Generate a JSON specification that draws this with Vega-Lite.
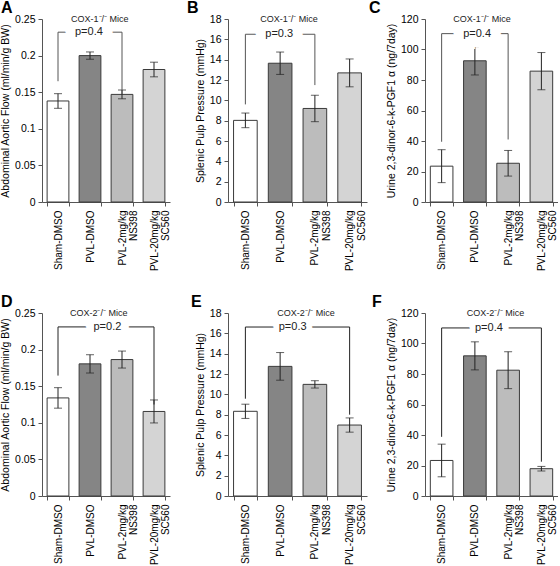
{
  "$schema": "https://vega.github.io/schema/vega-lite/v6.json",
  "padding": {"left": 0, "top": 0, "right": 0, "bottom": 0},
  "autosize": {"type": "pad"},
  "config": {
    "font": "Liberation Sans",
    "view": {"stroke": null},
    "axis": {"labelFont": "Liberation Sans", "titleFont": "Liberation Sans", "labelFontSize": 10.5, "titleFontSize": 10.5, "titleFontWeight": "normal", "labelColor": "#000", "titleColor": "#000", "domainColor": "#555", "tickColor": "#555", "grid": false, "tickSize": 4, "labelOverlap": false},
    "axisX": {"title": null, "labelFontSize": 10, "labelAngle": 270, "labelAlign": "right", "labelBaseline": "middle", "labelPadding": 4, "tickBand": "extent", "labelLineHeight": 11.5, "labelExpr": "indexof(datum.label, ' ') < 0 ? datum.label : [split(datum.label, ' ')[0], split(datum.label, ' ')[1] + '    ']"},
    "axisY": {"labelPadding": 3, "labelOverlap": false, "tickCount": 20},
    "title": {"font": "Liberation Sans", "fontSize": 16, "fontWeight": "bold", "anchor": "start", "frame": "group", "offset": -2}
  },
  "datasets": {
    "bars": [
      {"panel": "A", "cat": "Sham-DMSO", "mean": 0.138, "err": 0.010},
      {"panel": "A", "cat": "PVL-DMSO", "mean": 0.200, "err": 0.005},
      {"panel": "A", "cat": "PVL-2mg/kg NS398", "mean": 0.147, "err": 0.006},
      {"panel": "A", "cat": "PVL-20mg/kg SC560", "mean": 0.181, "err": 0.010},
      {"panel": "B", "cat": "Sham-DMSO", "mean": 8.03, "err": 0.72},
      {"panel": "B", "cat": "PVL-DMSO", "mean": 13.65, "err": 1.1},
      {"panel": "B", "cat": "PVL-2mg/kg NS398", "mean": 9.2, "err": 1.3},
      {"panel": "B", "cat": "PVL-20mg/kg SC560", "mean": 12.7, "err": 1.37},
      {"panel": "C", "cat": "Sham-DMSO", "mean": 23.5, "err": 10.8},
      {"panel": "C", "cat": "PVL-DMSO", "mean": 92.6, "err": 9.3},
      {"panel": "C", "cat": "PVL-2mg/kg NS398", "mean": 25.4, "err": 8.4},
      {"panel": "C", "cat": "PVL-20mg/kg SC560", "mean": 85.8, "err": 12.2},
      {"panel": "D", "cat": "Sham-DMSO", "mean": 0.134, "err": 0.014},
      {"panel": "D", "cat": "PVL-DMSO", "mean": 0.1805, "err": 0.0125},
      {"panel": "D", "cat": "PVL-2mg/kg NS398", "mean": 0.1864, "err": 0.0116},
      {"panel": "D", "cat": "PVL-20mg/kg SC560", "mean": 0.1155, "err": 0.0157},
      {"panel": "E", "cat": "Sham-DMSO", "mean": 8.33, "err": 0.7},
      {"panel": "E", "cat": "PVL-DMSO", "mean": 12.75, "err": 1.36},
      {"panel": "E", "cat": "PVL-2mg/kg NS398", "mean": 10.98, "err": 0.36},
      {"panel": "E", "cat": "PVL-20mg/kg SC560", "mean": 6.98, "err": 0.7},
      {"panel": "F", "cat": "Sham-DMSO", "mean": 23.3, "err": 10.7},
      {"panel": "F", "cat": "PVL-DMSO", "mean": 91.9, "err": 9.2},
      {"panel": "F", "cat": "PVL-2mg/kg NS398", "mean": 82.5, "err": 12.1},
      {"panel": "F", "cat": "PVL-20mg/kg SC560", "mean": 17.9, "err": 1.5}
    ],
    "brackets": [
      {"panel": "A", "from": "Sham-DMSO", "to": "PVL-2mg/kg NS398", "ytop": 0.232, "yl": 0.165, "yr": 0.147, "p": "p=0.4", "cox": "COX-1⁻/⁻ Mice", "ymax": 0.25},
      {"panel": "B", "from": "Sham-DMSO", "to": "PVL-2mg/kg NS398", "ytop": 16.5, "yl": 9.6, "yr": 11.5, "p": "p=0.3", "cox": "COX-1⁻/⁻ Mice", "ymax": 18},
      {"panel": "C", "from": "Sham-DMSO", "to": "PVL-2mg/kg NS398", "ytop": 110.4, "yl": 39.5, "yr": 41, "p": "p=0.4", "cox": "COX-1⁻/⁻ Mice", "ymax": 120},
      {"panel": "D", "from": "Sham-DMSO", "to": "PVL-20mg/kg SC560", "ytop": 0.231, "yl": 0.1645, "yr": 0.125, "p": "p=0.2", "cox": "COX-2⁻/⁻ Mice", "ymax": 0.25},
      {"panel": "E", "from": "Sham-DMSO", "to": "PVL-20mg/kg SC560", "ytop": 16.62, "yl": 9.57, "yr": 8.0, "p": "p=0.3", "cox": "COX-2⁻/⁻ Mice", "ymax": 18},
      {"panel": "F", "from": "Sham-DMSO", "to": "PVL-20mg/kg SC560", "ytop": 110.2, "yl": 38.8, "yr": 22.5, "p": "p=0.4", "cox": "COX-2⁻/⁻ Mice", "ymax": 120}
    ]
  },
  "columns": 3,
  "bounds": "flush",
  "align": "each",
  "spacing": {"row": 111, "column": 58},
  "resolve": {"scale": {"x": "independent", "y": "independent"}},
  "concat": [
    {
      "width": 128, "height": 183,
      "title": {"text": "A", "dx": -41},
      "layer": [
        {"data": {"name": "bars"}, "transform": [{"filter": "datum.panel==='A'"}],
         "mark": {"type": "bar", "stroke": "#3a3a3a", "strokeWidth": 1},
         "encoding": {
           "x": {"field": "cat", "type": "nominal", "scale": {"domain": ["Sham-DMSO", "PVL-DMSO", "PVL-2mg/kg NS398", "PVL-20mg/kg SC560"], "paddingInner": 0.32, "paddingOuter": 0.16}},
           "y": {"field": "mean", "type": "quantitative", "title": "Abdominal Aortic Flow (ml/min/g BW)", "scale": {"domain": [0, 0.25], "nice": false}, "axis": {"values": [0, 0.05, 0.1, 0.15, 0.2, 0.25], "format": "~g", "tickCount": 20}},
           "fill": {"field": "cat", "type": "nominal", "scale": {"domain": ["Sham-DMSO", "PVL-DMSO", "PVL-2mg/kg NS398", "PVL-20mg/kg SC560"], "range": ["#ffffff", "#858585", "#bcbcbc", "#d4d4d4"]}, "legend": null}
         }},
        {"data": {"name": "bars"}, "transform": [{"filter": "datum.panel==='A'"}],
         "mark": {"type": "errorbar", "ticks": {"size": 8}, "color": "#222", "thickness": 1},
         "encoding": {
           "x": {"field": "cat", "type": "nominal"},
           "y": {"field": "mean", "type": "quantitative", "title": "Abdominal Aortic Flow (ml/min/g BW)", "axis": {"values": [0, 0.05, 0.1, 0.15, 0.2, 0.25], "format": "~g", "tickCount": 20}},
           "yError": {"field": "err"}
         }},
        {"data": {"name": "brackets"}, "transform": [{"filter": "datum.panel==='A'"}],
         "mark": {"type": "rule", "color": "#555"},
         "encoding": {"x": {"field": "from", "type": "nominal"}, "y": {"field": "yl", "type": "quantitative"}, "y2": {"field": "ytop"}}},
        {"data": {"name": "brackets"}, "transform": [{"filter": "datum.panel==='A'"}],
         "mark": {"type": "rule", "color": "#555"},
         "encoding": {"x": {"field": "to", "type": "nominal"}, "y": {"field": "yr", "type": "quantitative"}, "y2": {"field": "ytop"}}},
        {"data": {"name": "brackets"}, "transform": [{"filter": "datum.panel==='A'"}],
         "mark": {"type": "rule", "color": "#555"},
         "encoding": {"x": {"field": "from", "type": "nominal", "bandPosition": 0.5}, "x2": {"field": "to", "bandPosition": 0.5}, "y": {"field": "ytop", "type": "quantitative"}}},
        {"data": {"name": "brackets"}, "transform": [{"filter": "datum.panel==='A'"}],
         "mark": {"type": "text", "fontSize": 11, "stroke": "white", "strokeWidth": 20, "fill": "white", "baseline": "middle"},
         "encoding": {"x": {"datum": "PVL-DMSO", "bandPosition": 0.45}, "y": {"field": "ytop", "type": "quantitative"}, "text": {"field": "p"}}},
        {"data": {"name": "brackets"}, "transform": [{"filter": "datum.panel==='A'"}],
         "mark": {"type": "text", "fontSize": 11, "fill": "#222", "baseline": "middle"},
         "encoding": {"x": {"datum": "PVL-DMSO", "bandPosition": 0.45}, "y": {"field": "ytop", "type": "quantitative"}, "text": {"field": "p"}}},
        {"data": {"name": "brackets"}, "transform": [{"filter": "datum.panel==='A'"}],
         "mark": {"type": "text", "fontSize": 9, "fill": "#222", "baseline": "middle"},
         "encoding": {"x": {"datum": "PVL-DMSO", "bandPosition": 0.95}, "y": {"field": "ymax", "type": "quantitative"}, "text": {"field": "cox"}}}
      ]
    },
    {
      "width": 139, "height": 183,
      "title": {"text": "B", "dx": -41},
      "layer": [
        {"data": {"name": "bars"}, "transform": [{"filter": "datum.panel==='B'"}],
         "mark": {"type": "bar", "stroke": "#3a3a3a", "strokeWidth": 1},
         "encoding": {
           "x": {"field": "cat", "type": "nominal", "scale": {"domain": ["Sham-DMSO", "PVL-DMSO", "PVL-2mg/kg NS398", "PVL-20mg/kg SC560"], "paddingInner": 0.32, "paddingOuter": 0.16}},
           "y": {"field": "mean", "type": "quantitative", "title": "Splenic Pulp Pressure (mmHg)", "scale": {"domain": [0, 18], "nice": false}, "axis": {"values": [0, 2, 4, 6, 8, 10, 12, 14, 16, 18], "tickCount": 20}},
           "fill": {"field": "cat", "type": "nominal", "scale": {"domain": ["Sham-DMSO", "PVL-DMSO", "PVL-2mg/kg NS398", "PVL-20mg/kg SC560"], "range": ["#ffffff", "#858585", "#bcbcbc", "#d4d4d4"]}, "legend": null}
         }},
        {"data": {"name": "bars"}, "transform": [{"filter": "datum.panel==='B'"}],
         "mark": {"type": "errorbar", "ticks": {"size": 8}, "color": "#222", "thickness": 1},
         "encoding": {
           "x": {"field": "cat", "type": "nominal"},
           "y": {"field": "mean", "type": "quantitative", "title": "Splenic Pulp Pressure (mmHg)", "axis": {"values": [0, 2, 4, 6, 8, 10, 12, 14, 16, 18], "tickCount": 20}},
           "yError": {"field": "err"}
         }},
        {"data": {"name": "brackets"}, "transform": [{"filter": "datum.panel==='B'"}],
         "mark": {"type": "rule", "color": "#555"},
         "encoding": {"x": {"field": "from", "type": "nominal"}, "y": {"field": "yl", "type": "quantitative"}, "y2": {"field": "ytop"}}},
        {"data": {"name": "brackets"}, "transform": [{"filter": "datum.panel==='B'"}],
         "mark": {"type": "rule", "color": "#555"},
         "encoding": {"x": {"field": "to", "type": "nominal"}, "y": {"field": "yr", "type": "quantitative"}, "y2": {"field": "ytop"}}},
        {"data": {"name": "brackets"}, "transform": [{"filter": "datum.panel==='B'"}],
         "mark": {"type": "rule", "color": "#555"},
         "encoding": {"x": {"field": "from", "type": "nominal", "bandPosition": 0.5}, "x2": {"field": "to", "bandPosition": 0.5}, "y": {"field": "ytop", "type": "quantitative"}}},
        {"data": {"name": "brackets"}, "transform": [{"filter": "datum.panel==='B'"}],
         "mark": {"type": "text", "fontSize": 11, "stroke": "white", "strokeWidth": 20, "fill": "white", "baseline": "middle"},
         "encoding": {"x": {"datum": "PVL-DMSO", "bandPosition": 0.46}, "y": {"field": "ytop", "type": "quantitative"}, "text": {"field": "p"}}},
        {"data": {"name": "brackets"}, "transform": [{"filter": "datum.panel==='B'"}],
         "mark": {"type": "text", "fontSize": 11, "fill": "#222", "baseline": "middle"},
         "encoding": {"x": {"datum": "PVL-DMSO", "bandPosition": 0.46}, "y": {"field": "ytop", "type": "quantitative"}, "text": {"field": "p"}}},
        {"data": {"name": "brackets"}, "transform": [{"filter": "datum.panel==='B'"}],
         "mark": {"type": "text", "fontSize": 9, "fill": "#222", "baseline": "middle"},
         "encoding": {"x": {"datum": "PVL-DMSO", "bandPosition": 0.88}, "y": {"field": "ymax", "type": "quantitative"}, "text": {"field": "cox"}}}
      ]
    },
    {
      "width": 133, "height": 183,
      "title": {"text": "C", "dx": -56},
      "layer": [
        {"data": {"name": "bars"}, "transform": [{"filter": "datum.panel==='C'"}],
         "mark": {"type": "bar", "stroke": "#3a3a3a", "strokeWidth": 1},
         "encoding": {
           "x": {"field": "cat", "type": "nominal", "scale": {"domain": ["Sham-DMSO", "PVL-DMSO", "PVL-2mg/kg NS398", "PVL-20mg/kg SC560"], "paddingInner": 0.32, "paddingOuter": 0.16}},
           "y": {"field": "mean", "type": "quantitative", "title": "Urine 2,3-dinor-6-k-PGF1 α (ng/7day)", "scale": {"domain": [0, 120], "nice": false}, "axis": {"values": [0, 20, 40, 60, 80, 100, 120], "tickCount": 20}},
           "fill": {"field": "cat", "type": "nominal", "scale": {"domain": ["Sham-DMSO", "PVL-DMSO", "PVL-2mg/kg NS398", "PVL-20mg/kg SC560"], "range": ["#ffffff", "#858585", "#bcbcbc", "#d4d4d4"]}, "legend": null}
         }},
        {"data": {"name": "bars"}, "transform": [{"filter": "datum.panel==='C'"}],
         "mark": {"type": "errorbar", "ticks": {"size": 8}, "color": "#222", "thickness": 1},
         "encoding": {
           "x": {"field": "cat", "type": "nominal"},
           "y": {"field": "mean", "type": "quantitative", "title": "Urine 2,3-dinor-6-k-PGF1 α (ng/7day)", "axis": {"values": [0, 20, 40, 60, 80, 100, 120], "tickCount": 20}},
           "yError": {"field": "err"}
         }},
        {"data": {"name": "brackets"}, "transform": [{"filter": "datum.panel==='C'"}],
         "mark": {"type": "rule", "color": "#555"},
         "encoding": {"x": {"field": "from", "type": "nominal"}, "y": {"field": "yl", "type": "quantitative"}, "y2": {"field": "ytop"}}},
        {"data": {"name": "brackets"}, "transform": [{"filter": "datum.panel==='C'"}],
         "mark": {"type": "rule", "color": "#555"},
         "encoding": {"x": {"field": "to", "type": "nominal"}, "y": {"field": "yr", "type": "quantitative"}, "y2": {"field": "ytop"}}},
        {"data": {"name": "brackets"}, "transform": [{"filter": "datum.panel==='C'"}],
         "mark": {"type": "rule", "color": "#555"},
         "encoding": {"x": {"field": "from", "type": "nominal", "bandPosition": 0.5}, "x2": {"field": "to", "bandPosition": 0.5}, "y": {"field": "ytop", "type": "quantitative"}}},
        {"data": {"name": "brackets"}, "transform": [{"filter": "datum.panel==='C'"}],
         "mark": {"type": "text", "fontSize": 11, "stroke": "white", "strokeWidth": 20, "fill": "white", "baseline": "middle"},
         "encoding": {"x": {"datum": "PVL-DMSO", "bandPosition": 0.6}, "y": {"field": "ytop", "type": "quantitative"}, "text": {"field": "p"}}},
        {"data": {"name": "brackets"}, "transform": [{"filter": "datum.panel==='C'"}],
         "mark": {"type": "text", "fontSize": 11, "fill": "#222", "baseline": "middle"},
         "encoding": {"x": {"datum": "PVL-DMSO", "bandPosition": 0.6}, "y": {"field": "ytop", "type": "quantitative"}, "text": {"field": "p"}}},
        {"data": {"name": "brackets"}, "transform": [{"filter": "datum.panel==='C'"}],
         "mark": {"type": "text", "fontSize": 9, "fill": "#222", "baseline": "middle"},
         "encoding": {"x": {"datum": "PVL-DMSO", "bandPosition": 0.82}, "y": {"field": "ymax", "type": "quantitative"}, "text": {"field": "cox"}}}
      ]
    },
    {
      "width": 128, "height": 183,
      "title": {"text": "D", "dx": -41},
      "layer": [
        {"data": {"name": "bars"}, "transform": [{"filter": "datum.panel==='D'"}],
         "mark": {"type": "bar", "stroke": "#3a3a3a", "strokeWidth": 1},
         "encoding": {
           "x": {"field": "cat", "type": "nominal", "scale": {"domain": ["Sham-DMSO", "PVL-DMSO", "PVL-2mg/kg NS398", "PVL-20mg/kg SC560"], "paddingInner": 0.32, "paddingOuter": 0.16}},
           "y": {"field": "mean", "type": "quantitative", "title": "Abdominal Aortic Flow (ml/min/g BW)", "scale": {"domain": [0, 0.25], "nice": false}, "axis": {"values": [0, 0.05, 0.1, 0.15, 0.2, 0.25], "format": "~g", "tickCount": 20}},
           "fill": {"field": "cat", "type": "nominal", "scale": {"domain": ["Sham-DMSO", "PVL-DMSO", "PVL-2mg/kg NS398", "PVL-20mg/kg SC560"], "range": ["#ffffff", "#858585", "#bcbcbc", "#d4d4d4"]}, "legend": null}
         }},
        {"data": {"name": "bars"}, "transform": [{"filter": "datum.panel==='D'"}],
         "mark": {"type": "errorbar", "ticks": {"size": 8}, "color": "#222", "thickness": 1},
         "encoding": {
           "x": {"field": "cat", "type": "nominal"},
           "y": {"field": "mean", "type": "quantitative", "title": "Abdominal Aortic Flow (ml/min/g BW)", "axis": {"values": [0, 0.05, 0.1, 0.15, 0.2, 0.25], "format": "~g", "tickCount": 20}},
           "yError": {"field": "err"}
         }},
        {"data": {"name": "brackets"}, "transform": [{"filter": "datum.panel==='D'"}],
         "mark": {"type": "rule", "color": "#222"},
         "encoding": {"x": {"field": "from", "type": "nominal"}, "y": {"field": "yl", "type": "quantitative"}, "y2": {"field": "ytop"}}},
        {"data": {"name": "brackets"}, "transform": [{"filter": "datum.panel==='D'"}],
         "mark": {"type": "rule", "color": "#222"},
         "encoding": {"x": {"field": "to", "type": "nominal"}, "y": {"field": "yr", "type": "quantitative"}, "y2": {"field": "ytop"}}},
        {"data": {"name": "brackets"}, "transform": [{"filter": "datum.panel==='D'"}],
         "mark": {"type": "rule", "color": "#222"},
         "encoding": {"x": {"field": "from", "type": "nominal", "bandPosition": 0.5}, "x2": {"field": "to", "bandPosition": 0.5}, "y": {"field": "ytop", "type": "quantitative"}}},
        {"data": {"name": "brackets"}, "transform": [{"filter": "datum.panel==='D'"}],
         "mark": {"type": "text", "fontSize": 11, "stroke": "white", "strokeWidth": 16, "fill": "white", "baseline": "middle"},
         "encoding": {"x": {"datum": "PVL-DMSO", "bandPosition": 1.3}, "y": {"field": "ytop", "type": "quantitative"}, "text": {"field": "p"}}},
        {"data": {"name": "brackets"}, "transform": [{"filter": "datum.panel==='D'"}],
         "mark": {"type": "text", "fontSize": 11, "fill": "#222", "baseline": "middle"},
         "encoding": {"x": {"datum": "PVL-DMSO", "bandPosition": 1.3}, "y": {"field": "ytop", "type": "quantitative"}, "text": {"field": "p"}}},
        {"data": {"name": "brackets"}, "transform": [{"filter": "datum.panel==='D'"}],
         "mark": {"type": "text", "fontSize": 9, "fill": "#222", "baseline": "middle"},
         "encoding": {"x": {"datum": "PVL-DMSO", "bandPosition": 0.9}, "y": {"field": "ymax", "type": "quantitative"}, "text": {"field": "cox"}}}
      ]
    },
    {
      "width": 139, "height": 183,
      "title": {"text": "E", "dx": -37},
      "layer": [
        {"data": {"name": "bars"}, "transform": [{"filter": "datum.panel==='E'"}],
         "mark": {"type": "bar", "stroke": "#3a3a3a", "strokeWidth": 1},
         "encoding": {
           "x": {"field": "cat", "type": "nominal", "scale": {"domain": ["Sham-DMSO", "PVL-DMSO", "PVL-2mg/kg NS398", "PVL-20mg/kg SC560"], "paddingInner": 0.32, "paddingOuter": 0.16}},
           "y": {"field": "mean", "type": "quantitative", "title": "Splenic Pulp Pressure (mmHg)", "scale": {"domain": [0, 18], "nice": false}, "axis": {"values": [0, 2, 4, 6, 8, 10, 12, 14, 16, 18], "tickCount": 20}},
           "fill": {"field": "cat", "type": "nominal", "scale": {"domain": ["Sham-DMSO", "PVL-DMSO", "PVL-2mg/kg NS398", "PVL-20mg/kg SC560"], "range": ["#ffffff", "#858585", "#bcbcbc", "#d4d4d4"]}, "legend": null}
         }},
        {"data": {"name": "bars"}, "transform": [{"filter": "datum.panel==='E'"}],
         "mark": {"type": "errorbar", "ticks": {"size": 8}, "color": "#222", "thickness": 1},
         "encoding": {
           "x": {"field": "cat", "type": "nominal"},
           "y": {"field": "mean", "type": "quantitative", "title": "Splenic Pulp Pressure (mmHg)", "axis": {"values": [0, 2, 4, 6, 8, 10, 12, 14, 16, 18], "tickCount": 20}},
           "yError": {"field": "err"}
         }},
        {"data": {"name": "brackets"}, "transform": [{"filter": "datum.panel==='E'"}],
         "mark": {"type": "rule", "color": "#222"},
         "encoding": {"x": {"field": "from", "type": "nominal"}, "y": {"field": "yl", "type": "quantitative"}, "y2": {"field": "ytop"}}},
        {"data": {"name": "brackets"}, "transform": [{"filter": "datum.panel==='E'"}],
         "mark": {"type": "rule", "color": "#222"},
         "encoding": {"x": {"field": "to", "type": "nominal"}, "y": {"field": "yr", "type": "quantitative"}, "y2": {"field": "ytop"}}},
        {"data": {"name": "brackets"}, "transform": [{"filter": "datum.panel==='E'"}],
         "mark": {"type": "rule", "color": "#222"},
         "encoding": {"x": {"field": "from", "type": "nominal", "bandPosition": 0.5}, "x2": {"field": "to", "bandPosition": 0.5}, "y": {"field": "ytop", "type": "quantitative"}}},
        {"data": {"name": "brackets"}, "transform": [{"filter": "datum.panel==='E'"}],
         "mark": {"type": "text", "fontSize": 11, "stroke": "white", "strokeWidth": 12, "fill": "white", "baseline": "middle"},
         "encoding": {"x": {"datum": "PVL-DMSO", "bandPosition": 1.03}, "y": {"field": "ytop", "type": "quantitative"}, "text": {"field": "p"}}},
        {"data": {"name": "brackets"}, "transform": [{"filter": "datum.panel==='E'"}],
         "mark": {"type": "text", "fontSize": 11, "fill": "#222", "baseline": "middle"},
         "encoding": {"x": {"datum": "PVL-DMSO", "bandPosition": 1.03}, "y": {"field": "ytop", "type": "quantitative"}, "text": {"field": "p"}}},
        {"data": {"name": "brackets"}, "transform": [{"filter": "datum.panel==='E'"}],
         "mark": {"type": "text", "fontSize": 9, "fill": "#222", "baseline": "middle"},
         "encoding": {"x": {"datum": "PVL-DMSO", "bandPosition": 1.6}, "y": {"field": "ymax", "type": "quantitative"}, "text": {"field": "cox"}}}
      ]
    },
    {
      "width": 133, "height": 183,
      "title": {"text": "F", "dx": -53},
      "layer": [
        {"data": {"name": "bars"}, "transform": [{"filter": "datum.panel==='F'"}],
         "mark": {"type": "bar", "stroke": "#3a3a3a", "strokeWidth": 1},
         "encoding": {
           "x": {"field": "cat", "type": "nominal", "scale": {"domain": ["Sham-DMSO", "PVL-DMSO", "PVL-2mg/kg NS398", "PVL-20mg/kg SC560"], "paddingInner": 0.32, "paddingOuter": 0.16}},
           "y": {"field": "mean", "type": "quantitative", "title": "Urine 2,3-dinor-6-k-PGF1 α (ng/7day)", "scale": {"domain": [0, 120], "nice": false}, "axis": {"values": [0, 20, 40, 60, 80, 100, 120], "tickCount": 20}},
           "fill": {"field": "cat", "type": "nominal", "scale": {"domain": ["Sham-DMSO", "PVL-DMSO", "PVL-2mg/kg NS398", "PVL-20mg/kg SC560"], "range": ["#ffffff", "#858585", "#bcbcbc", "#d4d4d4"]}, "legend": null}
         }},
        {"data": {"name": "bars"}, "transform": [{"filter": "datum.panel==='F'"}],
         "mark": {"type": "errorbar", "ticks": {"size": 8}, "color": "#222", "thickness": 1},
         "encoding": {
           "x": {"field": "cat", "type": "nominal"},
           "y": {"field": "mean", "type": "quantitative", "title": "Urine 2,3-dinor-6-k-PGF1 α (ng/7day)", "axis": {"values": [0, 20, 40, 60, 80, 100, 120], "tickCount": 20}},
           "yError": {"field": "err"}
         }},
        {"data": {"name": "brackets"}, "transform": [{"filter": "datum.panel==='F'"}],
         "mark": {"type": "rule", "color": "#222"},
         "encoding": {"x": {"field": "from", "type": "nominal"}, "y": {"field": "yl", "type": "quantitative"}, "y2": {"field": "ytop"}}},
        {"data": {"name": "brackets"}, "transform": [{"filter": "datum.panel==='F'"}],
         "mark": {"type": "rule", "color": "#222"},
         "encoding": {"x": {"field": "to", "type": "nominal"}, "y": {"field": "yr", "type": "quantitative"}, "y2": {"field": "ytop"}}},
        {"data": {"name": "brackets"}, "transform": [{"filter": "datum.panel==='F'"}],
         "mark": {"type": "rule", "color": "#222"},
         "encoding": {"x": {"field": "from", "type": "nominal", "bandPosition": 0.5}, "x2": {"field": "to", "bandPosition": 0.5}, "y": {"field": "ytop", "type": "quantitative"}}},
        {"data": {"name": "brackets"}, "transform": [{"filter": "datum.panel==='F'"}],
         "mark": {"type": "text", "fontSize": 11, "stroke": "white", "strokeWidth": 12, "fill": "white", "baseline": "middle"},
         "encoding": {"x": {"datum": "PVL-DMSO", "bandPosition": 1.12}, "y": {"field": "ytop", "type": "quantitative"}, "text": {"field": "p"}}},
        {"data": {"name": "brackets"}, "transform": [{"filter": "datum.panel==='F'"}],
         "mark": {"type": "text", "fontSize": 11, "fill": "#222", "baseline": "middle"},
         "encoding": {"x": {"datum": "PVL-DMSO", "bandPosition": 1.12}, "y": {"field": "ytop", "type": "quantitative"}, "text": {"field": "p"}}},
        {"data": {"name": "brackets"}, "transform": [{"filter": "datum.panel==='F'"}],
         "mark": {"type": "text", "fontSize": 9, "fill": "#222", "baseline": "middle"},
         "encoding": {"x": {"datum": "PVL-DMSO", "bandPosition": 1.41}, "y": {"field": "ymax", "type": "quantitative"}, "text": {"field": "cox"}}}
      ]
    }
  ]
}
